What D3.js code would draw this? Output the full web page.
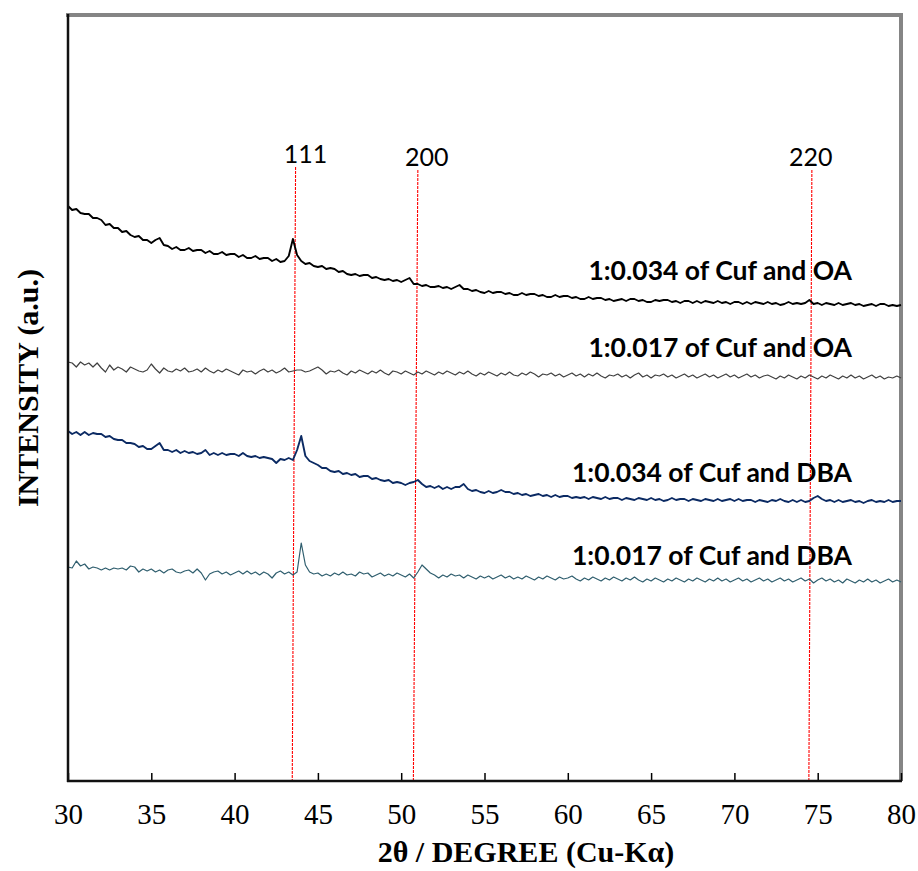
<!DOCTYPE html>
<html>
<head>
<meta charset="utf-8">
<script src="https://cdn.jsdelivr.net/npm/d3@7"></script>
<style>
  body { margin: 0; background: #fff; }
</style>
</head>
<body>
<svg id="xrd" width="918" height="871"></svg>
<script>
// 2-theta grid, 0.25 deg steps from 30 to 80
var twoTheta = d3.range(0, 201).map(function(i) { return 30 + i * 0.25; });

// intensities (a.u.), one value per grid step
var cufOA034 = [
  575, 571, 572, 568, 567, 567, 563, 563, 561, 556, 557, 553, 553, 549, 550, 546,
  544, 545, 541, 541, 538, 541, 543, 536, 535, 532, 534, 531, 531, 533, 530, 531,
  531, 528, 530, 527, 527, 529, 526, 527, 527, 524, 526, 523, 523, 525, 522, 523,
  523, 520, 522, 519, 520, 525, 542, 526, 520, 517, 518, 515, 514, 515, 512, 513,
  512, 509, 510, 507, 506, 507, 505, 506, 506, 503, 504, 502, 501, 502, 500, 501,
  499, 501, 503, 497, 497, 495, 496, 494, 494, 495, 493, 494, 492, 494, 496, 492,
  492, 490, 491, 489, 488, 490, 488, 489, 489, 487, 488, 486, 486, 488, 486, 487,
  487, 485, 486, 484, 484, 486, 484, 485, 485, 483, 484, 482, 482, 484, 482, 483,
  483, 481, 482, 480, 481, 482, 480, 482, 482, 480, 481, 479, 479, 481, 480, 481,
  481, 479, 480, 478, 480, 480, 478, 480, 478, 480, 479, 478, 480, 478, 479, 477,
  479, 479, 477, 479, 477, 479, 478, 477, 479, 477, 478, 476, 477, 479, 477, 478,
  477, 478, 481, 477, 478, 476, 478, 477, 476, 478, 476, 477, 478, 476, 477, 475,
  476, 477, 475, 477, 477, 475, 476, 475, 476
];
var cufOA017 = [
  419, 418, 414, 419, 416, 418, 414, 418, 413, 409, 416, 411, 414, 412, 409, 414,
  412, 410, 409, 411, 417, 412, 408, 413, 410, 409, 412, 410, 413, 409, 410, 412,
  409, 413, 410, 408, 411, 409, 412, 410, 408, 406, 411, 409, 410, 407, 410, 412,
  409, 411, 408, 410, 413, 409, 410, 411, 411, 409, 410, 412, 414, 411, 407, 410,
  409, 411, 408, 406, 410, 408, 411, 409, 407, 410, 408, 411, 408, 406, 410, 409,
  407, 410, 408, 406, 409, 407, 410, 408, 406, 409, 407, 410, 408, 406, 409, 407,
  410, 407, 405, 408, 406, 409, 407, 405, 408, 406, 409, 406, 405, 408, 406, 409,
  407, 404, 407, 406, 408, 405, 407, 404, 406, 408, 405, 407, 404, 407, 405, 408,
  405, 403, 406, 405, 407, 404, 406, 403, 406, 408, 404, 406, 403, 406, 405, 407,
  404, 406, 403, 405, 407, 404, 406, 403, 405, 407, 404, 406, 403, 405, 407, 404,
  406, 403, 405, 407, 404, 406, 403, 405, 406, 404, 402, 405, 403, 406, 404, 402,
  405, 403, 406, 404, 402, 405, 403, 406, 404, 402, 405, 403, 406, 403, 405, 402,
  404, 406, 403, 405, 402, 404, 403, 405, 403
];
var cufDBA034 = [
  350, 347, 349, 346, 349, 346, 348, 347, 347, 344, 345, 342, 341, 341, 338, 338,
  337, 334, 335, 332, 332, 335, 338, 331, 331, 329, 331, 328, 330, 328, 329, 327,
  328, 331, 326, 328, 326, 328, 326, 327, 327, 325, 328, 325, 324, 325, 323, 324,
  323, 322, 318, 322, 321, 323, 321, 331, 345, 325, 320, 318, 316, 313, 313, 310,
  309, 310, 307, 308, 306, 307, 304, 305, 305, 302, 303, 301, 300, 301, 298, 299,
  298, 296, 298, 299, 301, 297, 294, 295, 293, 295, 292, 294, 292, 294, 294, 297,
  292, 290, 291, 289, 288, 290, 288, 289, 291, 289, 289, 287, 288, 286, 287, 285,
  286, 287, 285, 286, 284, 286, 284, 285, 285, 283, 284, 283, 284, 282, 284, 283,
  282, 284, 282, 283, 283, 281, 283, 282, 281, 283, 282, 281, 283, 281, 282, 280,
  281, 283, 281, 282, 282, 280, 282, 281, 280, 282, 281, 280, 282, 280, 281, 282,
  280, 282, 280, 281, 281, 279, 281, 280, 279, 281, 280, 282, 280, 279, 281, 279,
  281, 279, 280, 283, 285, 282, 280, 281, 279, 281, 279, 280, 281, 279, 280, 278,
  280, 281, 279, 280, 279, 281, 279, 280, 280
];
var cufDBA017 = [
  214, 213, 220, 215, 217, 212, 214, 213, 211, 213, 211, 213, 212, 213, 211, 215,
  214, 209, 212, 210, 212, 209, 211, 208, 211, 212, 209, 208, 210, 211, 208, 212,
  208, 201, 207, 209, 210, 207, 209, 206, 208, 210, 207, 210, 207, 209, 206, 209,
  207, 203, 208, 210, 207, 209, 206, 209, 238, 216, 209, 207, 208, 205, 207, 205,
  208, 206, 209, 206, 207, 205, 209, 207, 208, 204, 206, 208, 205, 207, 205, 208,
  206, 204, 207, 203, 209, 216, 212, 208, 206, 203, 206, 204, 207, 205, 206, 203,
  206, 204, 202, 205, 203, 205, 202, 204, 206, 203, 205, 202, 204, 202, 205, 203,
  201, 204, 202, 205, 203, 201, 204, 202, 203, 205, 202, 200, 203, 201, 204, 202,
  200, 203, 201, 204, 202, 200, 203, 201, 204, 201, 199, 202, 200, 203, 201, 199,
  202, 200, 203, 201, 199, 202, 200, 203, 201, 199, 202, 200, 203, 200, 202, 199,
  201, 203, 200, 202, 199, 201, 203, 200, 202, 199, 201, 203, 200, 202, 199, 201,
  203, 200, 202, 198, 201, 203, 200, 202, 199, 201, 198, 202, 200, 198, 201, 199,
  202, 199, 201, 198, 200, 202, 199, 201, 199
];

var seriesNames = [
  "1:0.034 of Cuf and OA",
  "1:0.017 of Cuf and OA",
  "1:0.034 of Cuf and DBA",
  "1:0.017 of Cuf and DBA"
];
var seriesValues = [cufOA034, cufOA017, cufDBA034, cufDBA017];
var seriesColors = ["#000000", "#404040", "#0b2a63", "#2f5e6e"];

// reflection markers (hkl) - slightly slanted in the original
var peakLabels = ["111", "200", "220"];
var peakTop = [43.66, 51.0, 74.65];
var peakBottom = [43.46, 50.73, 74.47];
var peakTopIntensity = [614, 611, 611];

var xTicks = [30, 35, 40, 45, 50, 55, 60, 65, 70, 75, 80];

var svg = d3.select("#xrd");
var plotL = 68, plotR = 901, plotT = 15, plotB = 781;
var serif = "'Liberation Serif', 'Times New Roman', serif";
var sans = "Lato, 'Open Sans', sans-serif";

var x = d3.scaleLinear().domain([30, 80]).range([plotL, plotR]);
var y = d3.scaleLinear().domain([0, 766]).range([plotB, plotT]);

// frame: grey top/right, black left/bottom
svg.append("line").attr("x1", plotL - 2).attr("x2", plotR + 2).attr("y1", plotT).attr("y2", plotT)
  .attr("stroke", "#858585").attr("stroke-width", 4);
svg.append("line").attr("x1", plotR).attr("x2", plotR).attr("y1", plotT).attr("y2", plotB)
  .attr("stroke", "#858585").attr("stroke-width", 4);

// hkl lines
var peaks = peakLabels.map(function(d, i) {
  return { label: d, top: peakTop[i], bottom: peakBottom[i], ti: peakTopIntensity[i] };
});
svg.selectAll(".hkl")
  .data(peaks)
  .enter()
  .append("line")
  .attr("class", "hkl")
  .attr("x1", function(d) { return x(d.top); })
  .attr("y1", function(d) { return y(d.ti); })
  .attr("x2", function(d) { return x(d.bottom); })
  .attr("y2", y(0))
  .attr("stroke", "#ff0000")
  .attr("stroke-width", 1.1)
  .attr("stroke-dasharray", "3,1");

var labelDx = [10, 9, -1]; // labels sit a little off their lines
svg.selectAll(".hklLabel")
  .data(peaks)
  .enter()
  .append("text")
  .attr("class", "hklLabel")
  .attr("x", function(d, i) { return x(d.top) + labelDx[i]; })
  .attr("y", function(d) { return y(d.ti) - 4; })
  .attr("text-anchor", "middle")
  .style("font-family", sans)
  .style("font-size", "25px")
  .text(function(d) { return d.label; });

// the four patterns
var line = d3.line()
  .x(function(d, i) { return x(twoTheta[i]); })
  .y(function(d) { return y(d); });

svg.selectAll(".pattern")
  .data(seriesValues)
  .enter()
  .append("path")
  .attr("class", "pattern")
  .attr("d", line)
  .attr("fill", "none")
  .attr("stroke", function(d, i) { return seriesColors[i]; })
  .attr("stroke-width", function(d, i) { return i % 2 === 0 ? 1.9 : 1.2; })
  .attr("stroke-linejoin", "round");

var labelY = [280, 357, 482, 565];
svg.selectAll(".seriesLabel")
  .data(seriesNames)
  .enter()
  .append("text")
  .attr("class", "seriesLabel")
  .attr("x", 852)
  .attr("y", function(d, i) { return labelY[i]; })
  .attr("text-anchor", "end")
  .style("font-family", sans)
  .style("font-weight", "bold")
  .style("font-size", "26.5px")
  .text(function(d) { return d; });

// bottom axis, ticks pointing inwards
var xAxis = svg.append("g")
  .attr("transform", "translate(0," + plotB + ")")
  .call(d3.axisBottom(x).tickValues(xTicks).tickSizeInner(-8).tickSizeOuter(0).tickPadding(22));
xAxis.select(".domain").remove();
xAxis.selectAll(".tick line").attr("stroke", "#000").attr("stroke-width", 1.5);
xAxis.selectAll(".tick text")
  .attr("fill", "#000")
  .style("font-family", serif)
  .style("font-size", "29px");

svg.append("line").attr("x1", plotL).attr("x2", plotL).attr("y1", plotT - 1).attr("y2", plotB + 1)
  .attr("stroke", "#111").attr("stroke-width", 2.5);
svg.append("line").attr("x1", plotL - 1).attr("x2", plotR + 1).attr("y1", plotB).attr("y2", plotB)
  .attr("stroke", "#111").attr("stroke-width", 2.5);

// axis titles
svg.append("text")
  .attr("x", 526)
  .attr("y", 862)
  .attr("text-anchor", "middle")
  .style("font-family", serif)
  .style("font-weight", "bold")
  .style("font-size", "30px")
  .text("2θ / DEGREE (Cu-Kα)");

svg.append("text")
  .attr("transform", "translate(38,388) rotate(-90)")
  .attr("text-anchor", "middle")
  .style("font-family", serif)
  .style("font-weight", "bold")
  .style("font-size", "30px")
  .text("INTENSITY (a.u.)");
</script>
</body>
</html>
